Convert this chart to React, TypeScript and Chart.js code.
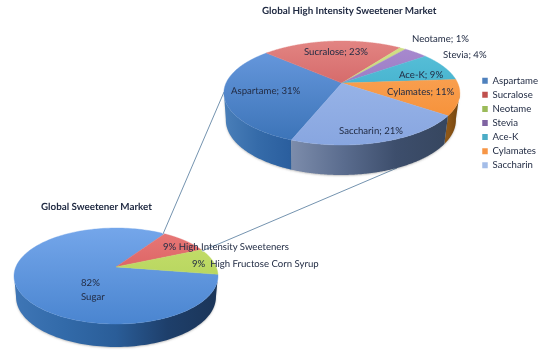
import React, { useEffect, useRef } from "react";
import { Chart, registerables } from "chart.js";

Chart.register(...registerables);

const FONT = "Lato, 'Open Sans', sans-serif";
const INK = "#222c44";

const intensityLabels = ["Aspartame", "Sucralose", "Neotame", "Stevia", "Ace-K", "Cylamates", "Saccharin"];
const intensityValues = [31, 23, 1, 4, 9, 11, 21];
const intensitySwatches = ["#4f81bd", "#c0504d", "#9bbb59", "#8064a2", "#4bacc6", "#f79646", "#a4bde8"];

const marketLabels = ["Sugar", "High Intensity Sweeteners", "High Fructose Corn Syrup"];
const marketValues = [82, 9, 9];
const marketSwatches = ["#5b92dc", "#d9585a", "#b6d75c"];

const intensityTitle = "Global High Intensity Sweetener Market";
const marketTitle = "Global Sweetener Market";

type Look = {
  cy: number; ry: number; e: number;
  bdx: number; brx: number; bcy: number; bry: number;
  faces: string[][]; walls: string[][];
  draw: (ctx: CanvasRenderingContext2D, chart: any) => void;
};

function text(ctx: CanvasRenderingContext2D, s: string, x: number, y: number, font = `9.6px ${FONT}`) {
  (ctx as any).textRendering = "geometricPrecision";
  ctx.font = font;
  ctx.fillStyle = INK;
  ctx.textAlign = "left";
  ctx.textBaseline = "middle";
  ctx.fillText(s, x, y);
}

function tiltedPie(look: Look) {
  return {
    id: "tiltedPie",
    beforeDatasetsDraw(chart: any) {
      const ctx: CanvasRenderingContext2D = chart.ctx;
      const arcs = chart.getDatasetMeta(0).data;
      const k = Math.sqrt(1 - look.e * look.e);
      const project = (a: number) => {
        const c = Math.cos(a), s = Math.sin(a), d = 1 - look.e * s;
        return { x: (c * k) / d, y: (s - look.e) / d };
      };
      arcs.forEach((arc: any, i: number) => {
        const rx = arc.outerRadius, cx = arc.x;
        const brx = look.brx * rx, bcx = cx + look.bdx;
        const steps = 180;
        const run: { x: number; y: number }[] = [];
        for (let j = 0; j <= steps; j++) {
          const p = project(arc.startAngle + ((arc.endAngle - arc.startAngle) * j) / steps);
          if (p.y >= -0.02) run.push(p);
        }
        if (run.length < 2) return;
        const xs = run.map((p) => cx + rx * p.x);
        const x0 = Math.min(...xs), x1 = Math.max(...xs);
        const g = ctx.createLinearGradient(x0, 0, x1, 0);
        const stops = look.walls[i];
        stops.forEach((col, n) => g.addColorStop(n / (stops.length - 1), col));
        ctx.save();
        ctx.shadowColor = "rgba(60,60,60,0.3)";
        ctx.shadowBlur = 2;
        ctx.shadowOffsetY = 1;
        ctx.beginPath();
        run.forEach((p, n) => {
          const X = cx + rx * p.x, Y = look.cy + look.ry * p.y;
          if (n === 0) ctx.moveTo(X, Y); else ctx.lineTo(X, Y);
        });
        for (let n = run.length - 1; n >= 0; n--) {
          ctx.lineTo(bcx + brx * run[n].x, look.bcy + look.bry * run[n].y);
        }
        ctx.closePath();
        ctx.fillStyle = g;
        ctx.fill();
        ctx.restore();
      });
      arcs.forEach((arc: any, i: number) => {
        const rx = arc.outerRadius, cx = arc.x;
        const g = ctx.createLinearGradient(0, look.cy - look.ry, 0, look.cy + look.ry);
        g.addColorStop(0, look.faces[i][0]);
        g.addColorStop(1, look.faces[i][1]);
        ctx.beginPath();
        ctx.moveTo(cx, look.cy - look.ry * look.e);
        const steps = 180;
        for (let j = 0; j <= steps; j++) {
          const p = project(arc.startAngle + ((arc.endAngle - arc.startAngle) * j) / steps);
          ctx.lineTo(cx + rx * p.x, look.cy + look.ry * p.y);
        }
        ctx.closePath();
        ctx.fillStyle = g;
        ctx.fill();
        ctx.strokeStyle = g;
        ctx.lineWidth = 0.4;
        ctx.stroke();
      });
      return false;
    },
    afterDraw(chart: any) {
      look.draw(chart.ctx, chart);
    },
  };
}

const bigLook: Look = {
  cy: 93, ry: 52, e: 0.19,
  bdx: -1, brx: 0.975, bcy: 120, bry: 55,
  faces: [
    ["#6a9be0", "#3a72b6"],
    ["#e28482", "#c4474a"],
    ["#d2e08a", "#b4cf62"],
    ["#a98bd0", "#8a68b4"],
    ["#5cc2da", "#2ea2c2"],
    ["#fbab62", "#f5892c"],
    ["#a0bbec", "#88a6e0"],
  ],
  walls: [
    ["#4a7fb9", "#356ba9", "#2a5e9e"],
    ["#7a4040", "#7a4040"],
    ["#808f50", "#808f50"],
    ["#5f4a7a", "#5f4a7a"],
    ["#327f95", "#327f95"],
    ["#8f5716", "#70430f"],
    ["#7c8cab", "#5a6c8e", "#3d4e6c", "#36465f"],
  ],
  draw(ctx) {
    const pct = (i: number) => `${intensityLabels[i]}; ${intensityValues[i]}%`;
    text(ctx, intensityTitle, 262, 11, `bold 9.8px ${FONT}`);
    text(ctx, pct(2), 412, 39);
    text(ctx, pct(3), 443, 55);
    text(ctx, pct(1), 304, 52);
    text(ctx, pct(4), 399, 75);
    text(ctx, pct(5), 387, 92);
    text(ctx, pct(0), 231, 91);
    text(ctx, pct(6), 339, 131);
  },
};

const smallLook: Look = {
  cy: 276, ry: 48, e: 0.19,
  bdx: 0, brx: 0.98, bcy: 297, bry: 50,
  faces: [
    ["#74a6ea", "#4a85d0"],
    ["#e87a78", "#cf4a4e"],
    ["#c8e06c", "#a9cd55"],
  ],
  walls: [
    ["#3f76b6", "#326aa9", "#2a5d98", "#1e3f6b", "#1b3558"],
    ["#7a4040", "#7a4040"],
    ["#6f8a3c", "#6f8a3c"],
  ],
  draw(ctx) {
    ctx.strokeStyle = "rgba(255,255,255,0.8)";
    ctx.lineWidth = 2.2;
    const segs = [[224, 92, 163, 234], [397, 168, 202, 251]];
    ctx.beginPath();
    segs.forEach(([a, b, c, d]) => { ctx.moveTo(a, b); ctx.lineTo(c, d); });
    ctx.stroke();
    ctx.strokeStyle = "#6487a6";
    ctx.lineWidth = 0.9;
    ctx.stroke();
    text(ctx, marketTitle, 41, 207, `bold 9.8px ${FONT}`);
    text(ctx, `${marketValues[0]}%`, 81, 283);
    text(ctx, marketLabels[0], 81, 297);
    text(ctx, `${marketValues[1]}% ${marketLabels[1]}`, 163, 247);
    text(ctx, `${marketValues[2]}%  ${marketLabels[2]}`, 192, 264);
  },
};

const canvasStyle: React.CSSProperties = { position: "absolute", left: 0, top: 0, filter: "blur(0.35px)" };

export default function App() {
  const smallRef = useRef<HTMLCanvasElement>(null);
  const bigRef = useRef<HTMLCanvasElement>(null);

  useEffect(() => {
    const small = new Chart(smallRef.current!, {
      type: "pie",
      data: {
        labels: marketLabels,
        datasets: [{ data: marketValues, backgroundColor: marketSwatches, borderWidth: 0 }],
      },
      options: {
        animation: false,
        responsive: false,
        rotation: 99,
        layout: { padding: { left: 14, right: 336, top: 76, bottom: 77 } },
        plugins: { legend: { display: false }, tooltip: { enabled: false } },
      },
      plugins: [tiltedPie(smallLook)],
    } as any);

    const big = new Chart(bigRef.current!, {
      type: "pie",
      data: {
        labels: intensityLabels,
        datasets: [{ data: intensityValues, backgroundColor: intensitySwatches, borderWidth: 0 }],
      },
      options: {
        animation: false,
        responsive: false,
        rotation: 201,
        layout: { padding: { left: 206, right: 6, top: 5, bottom: 116 } },
        plugins: {
          tooltip: { enabled: false },
          legend: {
            position: "right",
            labels: {
              boxWidth: 5.5,
              boxHeight: 6,
              padding: 4.5,
              color: INK,
              font: { family: FONT, size: 9.6 },
            },
          },
        },
      },
      plugins: [tiltedPie(bigLook)],
    } as any);

    return () => {
      small.destroy();
      big.destroy();
    };
  }, []);

  return (
    <div style={{ position: "fixed", left: 0, top: 0, width: 554, height: 357, background: "#fff", overflow: "hidden" }}>
      <canvas ref={smallRef} width={554} height={357} style={canvasStyle} />
      <canvas ref={bigRef} width={554} height={357} style={canvasStyle} />
    </div>
  );
}
